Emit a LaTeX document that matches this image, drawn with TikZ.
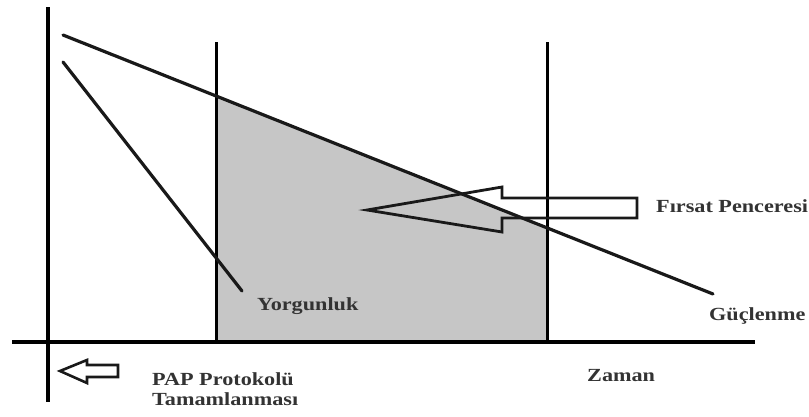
\documentclass[tikz,border=0pt]{standalone}
\usepackage{fontspec}
\setmainfont{Liberation Serif}[FakeStretch=1.2]
\usepackage{tikz}
\usetikzlibrary{calc}
\definecolor{windowgray}{RGB}{198,198,198}

\begin{document}
\begin{tikzpicture}[
    x=1pt, y=-1pt,
    axis/.style={line width=3.6pt, draw=black},
    trend/.style={line width=3.2pt, draw=black!90, line cap=round},
    blockarrow/.style={line width=2.8pt, draw=black!90, line join=miter},
    label/.style={font=\fontsize{18.5}{20}\selectfont\bfseries, text=black!80, inner sep=0pt}
]
\useasboundingbox (0,0) rectangle (809,416);

% Axes and time marks
\coordinate (origin) at (48,342);
\coordinate (ytop) at (48,7);
\coordinate (ybot) at (48,402);
\coordinate (xleft) at (12,342);
\coordinate (xright) at (755,342);
\coordinate (tstartTop) at (216,42);
\coordinate (tstartBot) at (216,342);
\coordinate (tendTop) at (547,42);
\coordinate (tendBot) at (547,342);

% Trend lines
\coordinate (guc1) at (63,35);
\coordinate (guc2) at (713,294);
\coordinate (yor1) at (63,62);
\coordinate (yor2) at (242,291);

% Window of opportunity
\coordinate (winA) at (intersection of guc1--guc2 and tstartTop--tstartBot);
\coordinate (winB) at (intersection of guc1--guc2 and tendTop--tendBot);
\fill[windowgray] (tstartBot) -- (winA) -- (winB) -- (tendBot) -- cycle;

\draw[axis] (ytop) -- (ybot);
\draw[axis] (xleft) -- (xright);
\draw[axis, line width=3pt] (tstartTop) -- (tstartBot);
\draw[axis, line width=3pt] (tendTop) -- (tendBot);

\draw[trend] (guc1) -- (guc2);
\draw[trend] (yor1) -- (yor2);

% Open block arrows
\draw[blockarrow] (367,210) -- (502,187) -- (502,198) -- (637,198) -- (637,218)
    -- (502,218) -- (502,232) -- cycle;
\draw[blockarrow, line width=2.6pt] (60,371) -- (87,360) -- (87,365) -- (118,365) -- (118,377)
    -- (87,377) -- (87,383) -- cycle;

% Labels
\node[label, anchor=base west] (firsat) at (656,212) {Fırsat Penceresi};
\node[label, anchor=base west] (guclenme) at (709,320) {Güçlenme};
\node[label, anchor=base west] (yorgunluk) at (257,310) {Yorgunluk};
\node[label, anchor=base west] (zaman) at (587,381) {Zaman};
\node[label, anchor=base west] (pap) at (152,385) {PAP Protokolü};
\node[label, anchor=base west] (tamam) at (152,405) {Tamamlanması};

\end{tikzpicture}
\end{document}
